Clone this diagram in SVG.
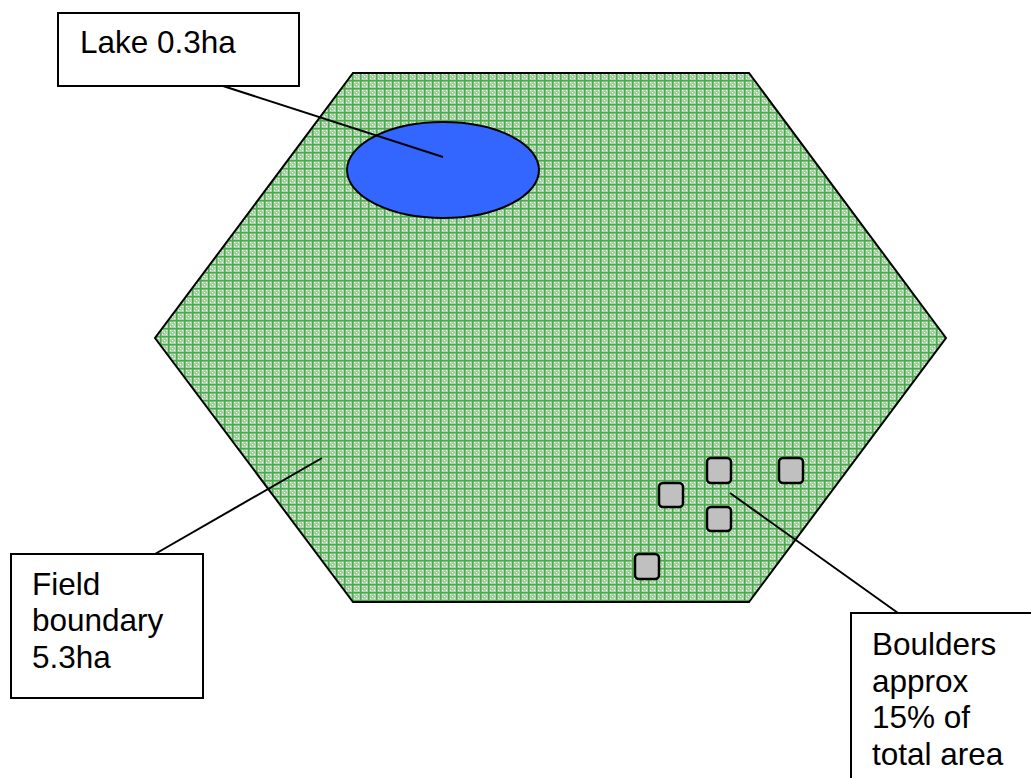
<svg xmlns="http://www.w3.org/2000/svg" width="1031" height="778" viewBox="0 0 1031 778">
<style>
.box{fill:#fff;stroke:#000;stroke-width:2}
.lbl{font-family:"Liberation Sans",Arial,sans-serif;font-size:31.5px;fill:#000}
.boulder{fill:#c0c0c0;stroke:#000;stroke-width:2.5}
.conn{stroke:#000;stroke-width:2;fill:none}
</style>
<defs>
<pattern id="grass" width="8" height="8" patternUnits="userSpaceOnUse">
<rect width="8" height="8" fill="#a6d9a6"/>
<rect x="2" y="2" width="1" height="1" fill="#ffffff"/>
<rect x="4" y="4" width="1" height="1" fill="#ffffff"/>
<rect x="6" y="2" width="1" height="1" fill="#ffffff"/>
<rect x="2" y="6" width="1" height="1" fill="#ffffff"/>
<rect x="6" y="6" width="1" height="1" fill="#ffffff"/>
<rect x="3" y="5" width="1" height="1" fill="#7cc47c"/>
<rect x="5" y="3" width="1" height="1" fill="#7cc47c"/>
<rect x="0" y="0" width="8" height="1.5" fill="#4aaa4a"/>
<rect x="0" y="0" width="1.5" height="8" fill="#4aaa4a"/>
</pattern>
</defs>
<rect width="1031" height="778" fill="#fff"/>
<g id="field">
<polygon points="353,73 749,73 946,338 749,602 353,602 155,338" fill="url(#grass)" stroke="#000" stroke-width="2"/>
</g>
<g id="lake">
<ellipse cx="443" cy="170" rx="96" ry="48" fill="#3366ff" stroke="#000" stroke-width="2"/>
</g>
<g id="boulders">
<rect class="boulder" x="707" y="458" width="24" height="25" rx="4"/>
<rect class="boulder" x="779" y="458" width="24" height="25" rx="4"/>
<rect class="boulder" x="659" y="483" width="24" height="24" rx="4"/>
<rect class="boulder" x="707" y="507" width="24" height="24" rx="4"/>
<rect class="boulder" x="635" y="554" width="24" height="25" rx="4"/>
</g>
<g id="connectors">
<line class="conn" x1="223" y1="86" x2="443" y2="157"/>
<line class="conn" x1="155" y1="554" x2="322" y2="458"/>
<line class="conn" x1="730" y1="493" x2="898" y2="613"/>
</g>
<g id="lake-label">
<rect class="box" x="58" y="13" width="241" height="73"/>
<text class="lbl" x="80" y="53">Lake 0.3ha</text>
</g>
<g id="field-label">
<rect class="box" x="11" y="554" width="192" height="144"/>
<text class="lbl" x="32" y="595">Field</text>
<text class="lbl" x="32" y="631">boundary</text>
<text class="lbl" x="32" y="668">5.3ha</text>
</g>
<g id="boulders-label">
<rect class="box" x="851" y="613" width="190" height="180"/>
<text class="lbl" x="872" y="655">Boulders</text>
<text class="lbl" x="872" y="692">approx</text>
<text class="lbl" x="872" y="728">15% of</text>
<text class="lbl" x="872" y="765">total area</text>
</g>
</svg>
